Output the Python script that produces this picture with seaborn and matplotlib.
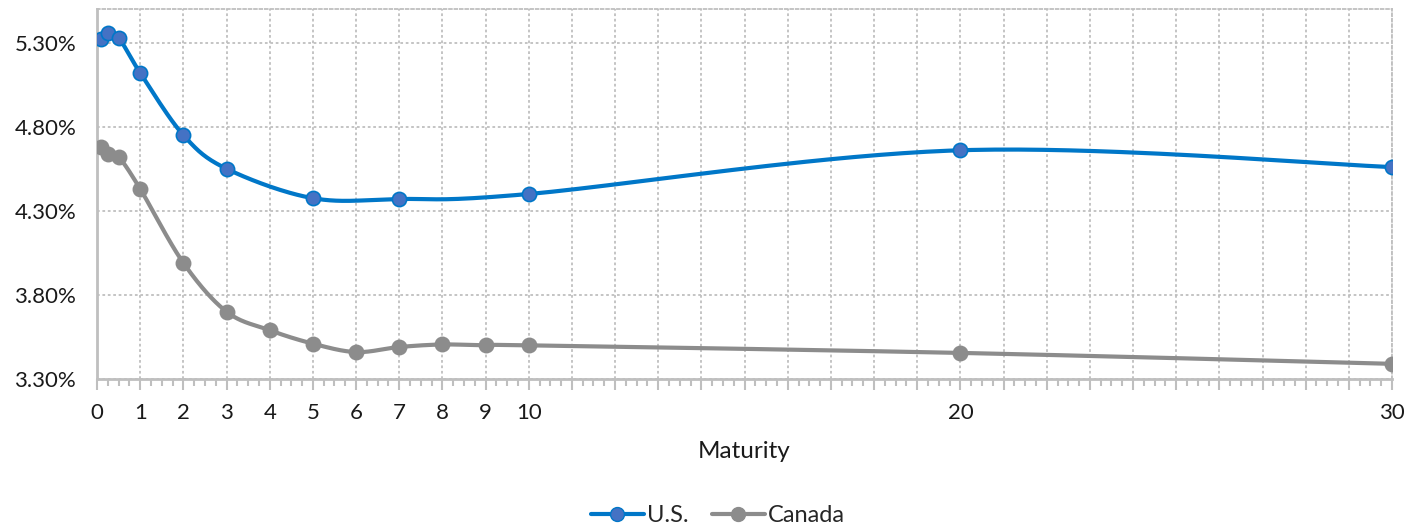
import numpy as np
import pandas as pd
import matplotlib
matplotlib.use("Agg")
from matplotlib import pyplot as plt
from matplotlib.lines import Line2D
from matplotlib.ticker import FixedLocator, MultipleLocator
import seaborn as sns

# data (yield in %)
us_maturity = [1/12, 0.25, 0.5, 1, 2, 3, 5, 7, 10, 20, 30]
us_yield = [5.32, 5.36, 5.33, 5.12, 4.75, 4.55, 4.375, 4.37, 4.40, 4.66, 4.56]
ca_maturity = [1/12, 0.25, 0.5, 1, 2, 3, 4, 5, 6, 7, 8, 9, 10, 20, 30]
ca_yield = [4.68, 4.64, 4.62, 4.43, 3.99, 3.70, 3.59, 3.51, 3.46, 3.49, 3.505, 3.50, 3.50, 3.455, 3.39]
x_labels = [0, 1, 2, 3, 4, 5, 6, 7, 8, 9, 10, 20, 30]
y_ticks = [3.30, 3.80, 4.30, 4.80, 5.30]

US_LINE = "#0077C8"
US_FACE = "#4472C4"
CA_LINE = "#8C8C8C"
GRID = "#BFBFBF"
TXT = "#1a1a1a"

sns.set_style("white")
plt.rcParams['font.family'] = ['Lato', 'DejaVu Sans']

fig = plt.figure(figsize=(14.19, 5.29), dpi=100)
ax = fig.add_axes([0.0684, 0.2836, 0.9126, 0.6994])
ax.set_xlim(0, 30)
ax.set_ylim(3.3, 5.5)

# px per data unit, used to smooth the line in screen space (like Excel's smoothed line)
sx = 1295 / 30
sy = 370 / 2.2


def smooth(xs, ys, n=40):
    P = np.column_stack([np.asarray(xs) * sx, np.asarray(ys) * sy])
    E = np.vstack([P[0], P, P[-1]])
    t = np.linspace(0, 1, n)[:, None]
    segs = []
    for i in range(len(P) - 1):
        p0, p1, p2, p3 = E[i], E[i + 1], E[i + 2], E[i + 3]
        c1 = p1 + (p2 - p0) / 6
        c2 = p2 - (p3 - p1) / 6
        segs.append((1 - t) ** 3 * p1 + 3 * (1 - t) ** 2 * t * c1 + 3 * (1 - t) * t ** 2 * c2 + t ** 3 * p2)
    c = np.vstack(segs)
    return pd.DataFrame({"x": c[:, 0] / sx, "y": c[:, 1] / sy})


for mats, ylds, lc, fc in [(ca_maturity, ca_yield, CA_LINE, CA_LINE),
                           (us_maturity, us_yield, US_LINE, US_FACE)]:
    curve = smooth(mats, ylds)
    sns.lineplot(data=curve, x="x", y="y", sort=False, estimator=None,
                 color=lc, linewidth=3, ax=ax, zorder=3)
    pts = pd.DataFrame({"x": mats, "y": ylds})
    sns.scatterplot(data=pts, x="x", y="y", s=105, color=fc, edgecolor=lc,
                    linewidth=1.2, ax=ax, zorder=4)

# axes styling
ax.xaxis.set_major_locator(MultipleLocator(1))
ax.xaxis.set_minor_locator(MultipleLocator(0.25))
ax.set_xticklabels([str(int(v)) if int(v) in x_labels else "" for v in ax.get_xticks()])
ax.yaxis.set_major_locator(FixedLocator(y_ticks))
ax.set_yticklabels([f"{v:.2f}%" for v in y_ticks])

ax.tick_params(axis="x", which="major", length=8, width=1.5, color=GRID, pad=9,
               labelsize=16, labelcolor=TXT, direction="out", bottom=True)
ax.tick_params(axis="x", which="minor", length=5, width=1.5, color=GRID, direction="out", bottom=True)
ax.tick_params(axis="y", length=0, pad=15, labelsize=16, labelcolor=TXT)

ax.grid(True, which="major", axis="both", color=GRID, linestyle=(0, (1.5, 1.5)), linewidth=1.3)
ax.set_axisbelow(True)

for side in ["left", "bottom"]:
    ax.spines[side].set_color(GRID)
    ax.spines[side].set_linewidth(2)
for side in ["top", "right"]:
    ax.spines[side].set_color(GRID)
    ax.spines[side].set_linestyle((0, (1.5, 1.5)))
    ax.spines[side].set_linewidth(1.3)

ax.set_xlabel("Maturity", fontsize=17.5, color=TXT, labelpad=13)
ax.set_ylabel("")

handles = [
    Line2D([0], [0], color=US_LINE, lw=3, marker="o", markersize=10,
           markerfacecolor=US_FACE, markeredgecolor=US_LINE),
    Line2D([0], [0], color=CA_LINE, lw=3, marker="o", markersize=10,
           markerfacecolor=CA_LINE, markeredgecolor=CA_LINE),
]
fig.legend(handles, ["U.S.", "Canada"], loc="center", bbox_to_anchor=(0.506, 0.025),
           ncol=2, frameon=False, fontsize=17, handlelength=2.25, handletextpad=0.15,
           columnspacing=0.95)

fig.savefig("out.png", dpi=100)
